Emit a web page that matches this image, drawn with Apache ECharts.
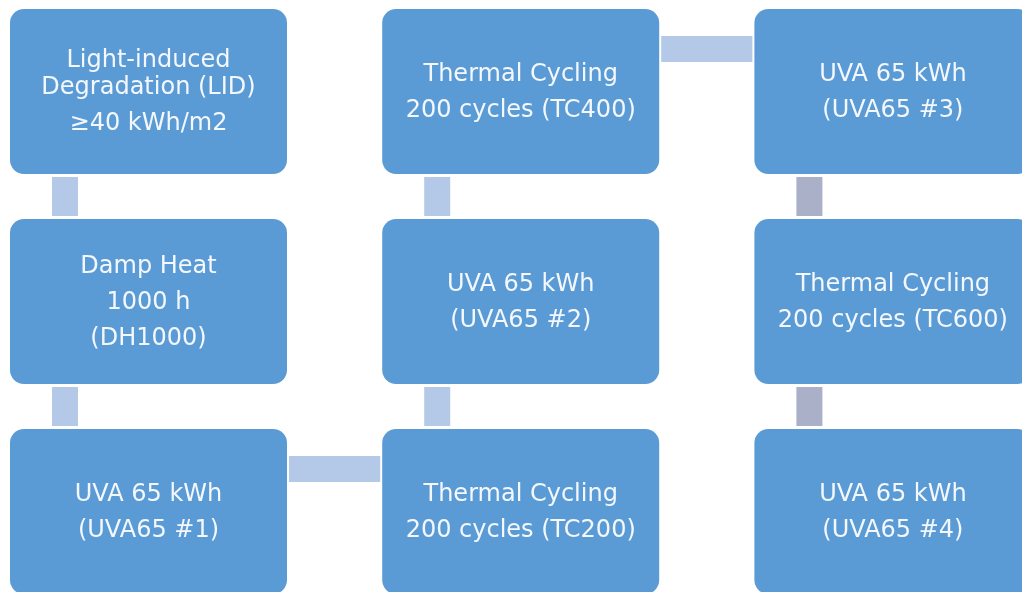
<!DOCTYPE html>
<html>
<head>
<meta charset="utf-8">
<script src="https://cdn.jsdelivr.net/npm/echarts@6.0.0/dist/echarts.min.js"></script>
<style>
  html, body { margin: 0; padding: 0; background: #fff; }
  #main { width: 1022px; height: 592px; }
</style>
</head>
<body>
<div id="main"></div>
<script>
// step nodes: column, row and text (paragraphs -> lines)
const nodeCols = [0, 0, 0, 1, 1, 1, 2, 2, 2]
const nodeRows = [0, 1, 2, 2, 1, 0, 0, 1, 2]
const nodeTexts = [
  [['Light-induced', 'Degradation (LID)'], ['≥40 kWh/m2']],
  [['Damp Heat'], ['1000 h'], ['(DH1000)']],
  [['UVA 65 kWh'], ['(UVA65 #1)']],
  [['Thermal Cycling'], ['200 cycles (TC200)']],
  [['UVA 65 kWh'], ['(UVA65 #2)']],
  [['Thermal Cycling'], ['200 cycles (TC400)']],
  [['UVA 65 kWh'], ['(UVA65 #3)']],
  [['Thermal Cycling'], ['200 cycles (TC600)']],
  [['UVA 65 kWh'], ['(UVA65 #4)']]
]
// connectors between consecutive steps: [from, to, tone]
const links = [
  [0, 1, 0], [1, 2, 0], [2, 3, 0], [3, 4, 0],
  [4, 5, 0], [5, 6, 0], [6, 7, 1], [7, 8, 1]
]

const BOX_W = 277
const BOX_H = 165
const COL_STEP = 372.2
const ROW_STEP = 210
const X0 = 148.5
const Y0 = 91.5
const linkColors = ['#b4c8e7', '#abb0c9']

const chart = echarts.init(document.getElementById('main'))

const boxData = nodeCols.map((c, i) => [c, nodeRows[i], i])
const linkData = links.map(l => [nodeCols[l[0]], nodeRows[l[0]], nodeCols[l[1]], nodeRows[l[1]], l[2]])

const renderBox = (params, api) => {
  const p = api.coord([api.value(0), api.value(1)])
  const paras = nodeTexts[api.value(2)]
  // line offsets: 27px inside a paragraph, 36px between paragraphs
  const ys = []
  let y = 0
  paras.forEach((para, pi) => {
    para.forEach((line, li) => {
      if (pi > 0 || li > 0) y += li > 0 ? 27 : 36
      ys.push({ text: line, y })
    })
  })
  const mid = y / 2 - 1
  const children = [{
    type: 'rect',
    shape: { x: -BOX_W / 2, y: -BOX_H / 2, width: BOX_W, height: BOX_H, r: 14 },
    style: { fill: '#5b9bd5' }
  }]
  ys.forEach(item => {
    children.push({
      type: 'text',
      x: 0,
      y: item.y - mid,
      style: {
        text: item.text,
        fill: '#f4f8fc',
        font: '24px "DejaVu Sans"',
        align: 'center',
        verticalAlign: 'middle'
      }
    })
  })
  return { type: 'group', x: p[0], y: p[1], children }
}

const renderLink = (params, api) => {
  const a = api.coord([api.value(0), api.value(1)])
  const b = api.coord([api.value(2), api.value(3)])
  const fill = linkColors[api.value(4)]
  let shape
  if (Math.abs(a[0] - b[0]) < 1) {
    const top = Math.min(a[1], b[1]) + BOX_H / 2 + 3
    const bottom = Math.max(a[1], b[1]) - BOX_H / 2 - 3
    shape = { x: a[0] - BOX_W / 2 + 42, y: top, width: 26, height: bottom - top }
  } else {
    const left = Math.min(a[0], b[0]) + BOX_W / 2 + 2
    const right = Math.max(a[0], b[0]) - BOX_W / 2 - 2
    shape = { x: left, y: a[1] - BOX_H / 2 + 27, width: right - left, height: 26 }
  }
  return { type: 'rect', shape, style: { fill } }
}

chart.setOption({
  animation: false,
  grid: { left: 0, right: 0, top: 0, bottom: 0 },
  xAxis: { type: 'value', show: false, min: -X0 / COL_STEP, max: (1022 - X0) / COL_STEP },
  yAxis: { type: 'value', show: false, inverse: true, min: -Y0 / ROW_STEP, max: (592 - Y0) / ROW_STEP },
  series: [
    { type: 'custom', renderItem: renderLink, data: linkData, silent: true },
    { type: 'custom', renderItem: renderBox, data: boxData, silent: true }
  ]
})
</script>
</body>
</html>
